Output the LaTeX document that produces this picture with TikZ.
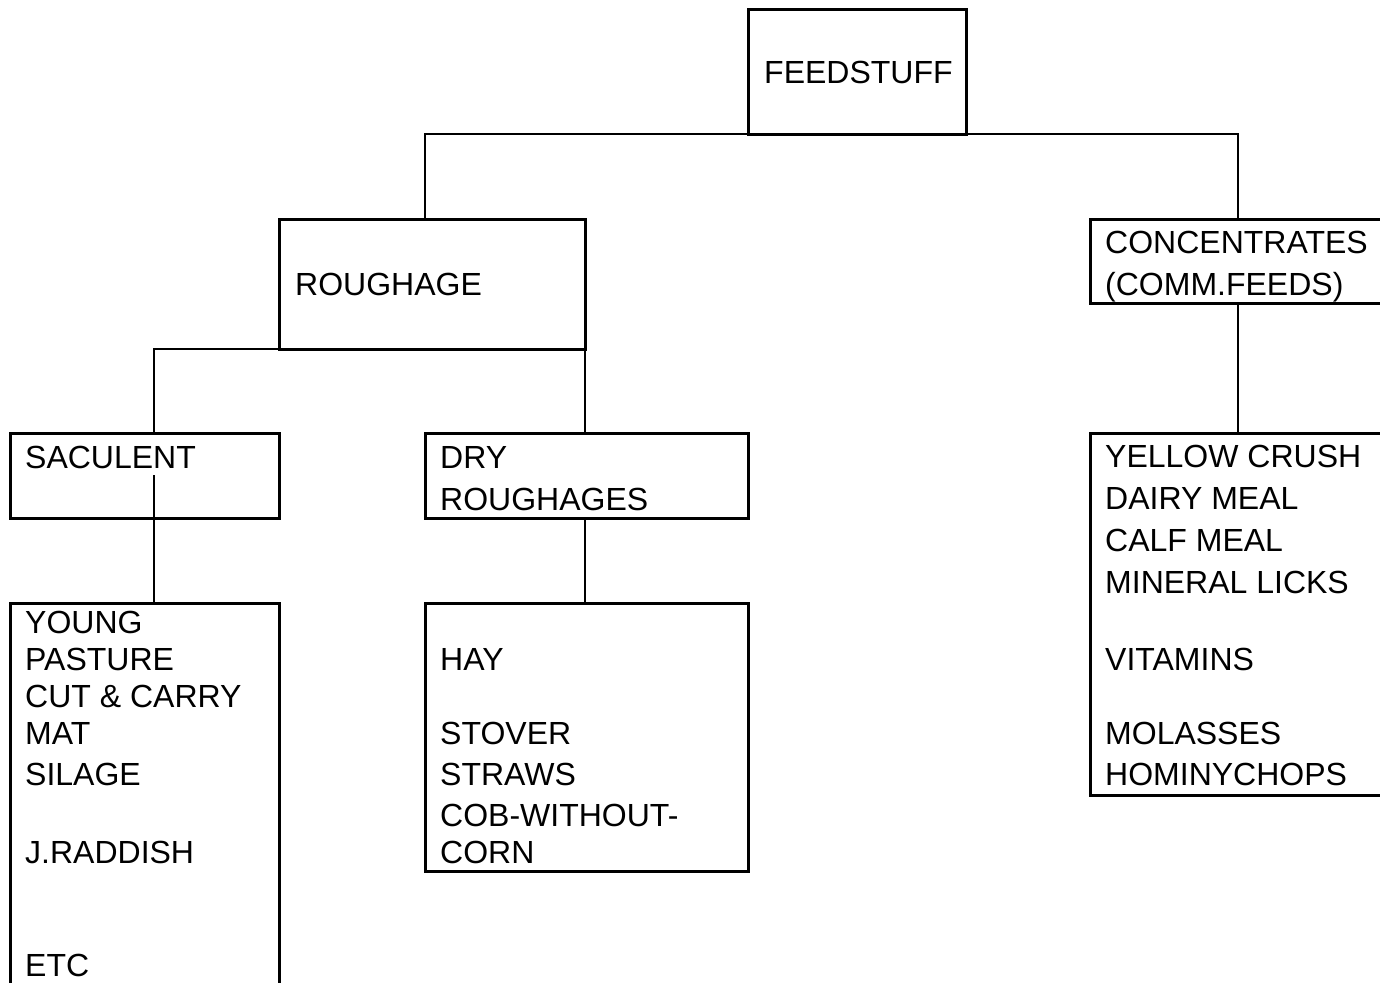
\documentclass[tikz,border=0pt]{standalone}
\usepackage{fontspec}
\setmainfont{Liberation Sans}
\begin{document}
\begin{tikzpicture}[x=1pt,y=-1pt,
  box/.style={draw=black,line width=3pt,rectangle,anchor=north west,inner sep=0pt,outer sep=0pt},
  lbl/.style={anchor=base west,inner sep=0pt,font=\fontsize{32}{38}\selectfont},
  conn/.style={draw=black,line width=2pt}]
\useasboundingbox (0,0) rectangle (1380,982);
\clip (0,0) rectangle (1380,982);
% boxes
\node[box,minimum width=218,minimum height=124] (feed) at (748,10) {};
\node[box,minimum width=306,minimum height=130] (rough) at (279,219) {};
\node[box,minimum width=310,minimum height=84] (conc) at (1090,219) {};
\node[box,minimum width=269,minimum height=85] (sac) at (10,433) {};
\node[box,minimum width=323,minimum height=85] (dry) at (425,433) {};
\node[box,minimum width=310,minimum height=362] (yel) at (1090,433) {};
\node[box,minimum width=269,minimum height=420] (young) at (10,603) {};
\node[box,minimum width=323,minimum height=268] (hay) at (425,603) {};
% texts
\node[lbl] (tfeed) at (764,83) {FEEDSTUFF};
\node[lbl] (trough) at (295,295) {ROUGHAGE};
\node[lbl] (tconc1) at (1105,253) {CONCENTRATES};
\node[lbl] (tconc2) at (1105,295) {(COMM.FEEDS)};
\node[lbl] (tsac) at (25,468) {SACULENT};
\node[lbl] (tdry1) at (440,468) {DRY};
\node[lbl] (tdry2) at (440,510) {ROUGHAGES};
\node[lbl] (ty1) at (25,633) {YOUNG};
\node[lbl] (ty2) at (25,670) {PASTURE};
\node[lbl] (ty3) at (25,707) {CUT \& CARRY};
\node[lbl] (ty4) at (25,744) {MAT};
\node[lbl] (ty5) at (25,785) {SILAGE};
\node[lbl] (ty6) at (25,863) {J.RADDISH};
\node[lbl] (ty7) at (25,976) {ETC};
\node[lbl] (th1) at (440,670) {HAY};
\node[lbl] (th2) at (440,744) {STOVER};
\node[lbl] (th3) at (440,785) {STRAWS};
\node[lbl] (th4) at (440,826) {COB-WITHOUT-};
\node[lbl] (th5) at (440,863) {CORN};
\node[lbl] (tc1) at (1105,467) {YELLOW CRUSH};
\node[lbl] (tc2) at (1105,509) {DAIRY MEAL};
\node[lbl] (tc3) at (1105,551) {CALF MEAL};
\node[lbl] (tc4) at (1105,593) {MINERAL LICKS};
\node[lbl] (tc5) at (1105,670) {VITAMINS};
\node[lbl] (tc6) at (1105,744) {MOLASSES};
\node[lbl] (tc7) at (1105,785) {HOMINYCHOPS};
% connector coordinates
\coordinate (rtop) at (425,219);
\coordinate (ctop) at (1238,219);
\coordinate (stop) at (154,433);
\coordinate (sin) at (154,475);
\coordinate (dx) at (585,518);
% connectors
\draw[conn] (rtop) -- (rtop |- feed.south) -- (ctop |- feed.south) -- (ctop);
\draw[conn] (rough.south west) -- (stop |- rough.south west) -- (stop);
\draw[conn] (rough.south east) -- (rough.south east |- dry.north);
\draw[conn] (sin) -- (sin |- young.north);
\draw[conn] (dx) -- (dx |- hay.north);
\draw[conn] (ctop |- conc.south) -- (ctop |- yel.north);
\end{tikzpicture}
\end{document}
